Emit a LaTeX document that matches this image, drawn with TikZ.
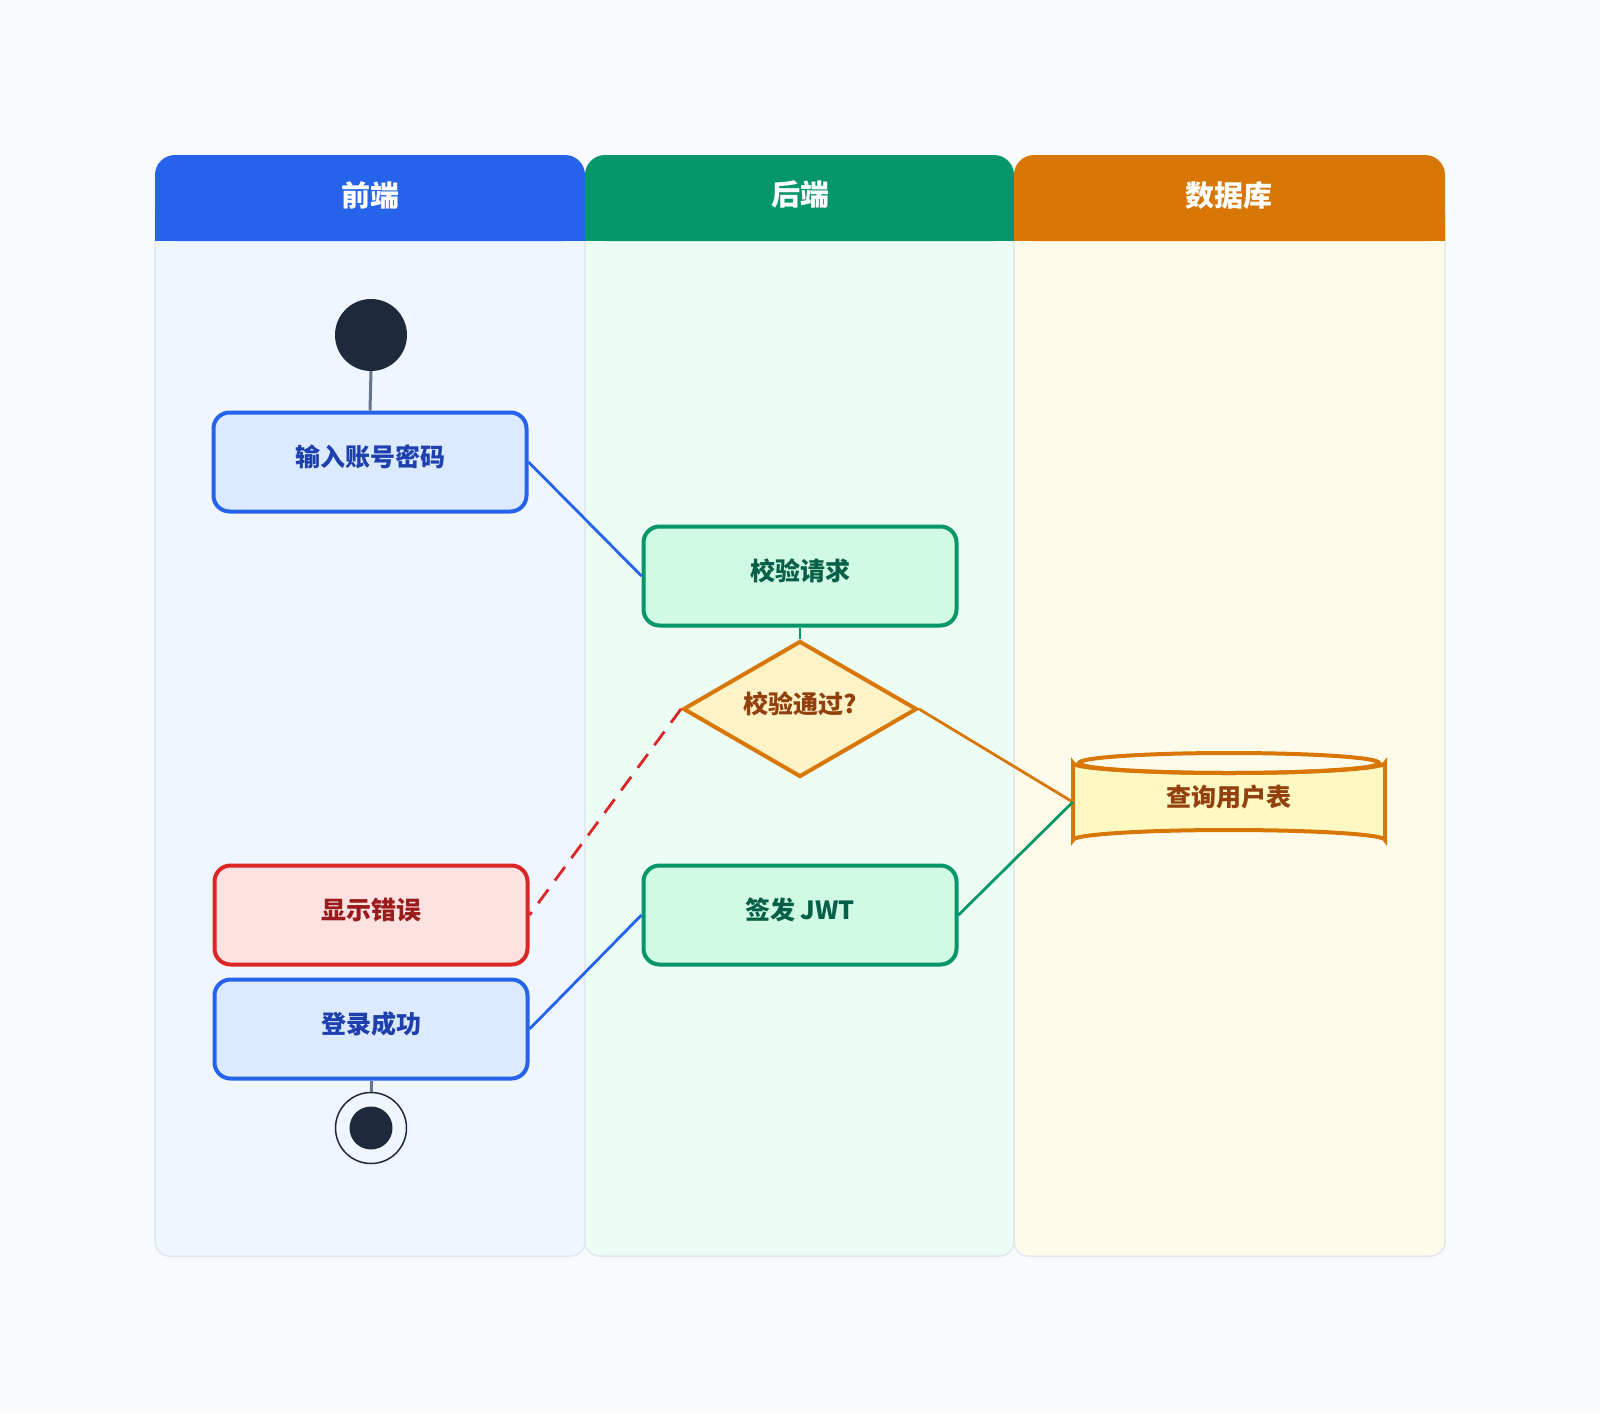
\documentclass[tikz,border=0pt]{standalone}
\usepackage{fontspec}
\setmainfont{Noto Sans CJK SC}
\usetikzlibrary{shapes.geometric}
\definecolor{bg}{HTML}{F8FAFC}
\definecolor{laneborder}{HTML}{E2E8F0}
\definecolor{hblue}{HTML}{2563EB}
\definecolor{hgreen}{HTML}{059669}
\definecolor{horange}{HTML}{D97706}
\definecolor{lblue}{HTML}{EFF6FF}
\definecolor{lgreen}{HTML}{ECFDF5}
\definecolor{lorange}{HTML}{FFFBEB}
\definecolor{fblue}{HTML}{DBEAFE}
\definecolor{tblue}{HTML}{1E40AF}
\definecolor{fgreen}{HTML}{D1FAE5}
\definecolor{tgreen}{HTML}{065F46}
\definecolor{fred}{HTML}{FEE2E2}
\definecolor{sred}{HTML}{DC2626}
\definecolor{tred}{HTML}{991B1B}
\definecolor{fyel}{HTML}{FEF3C7}
\definecolor{fdb}{HTML}{FEF9C3}
\definecolor{tbrown}{HTML}{92400E}
\definecolor{dark}{HTML}{1E293B}
\definecolor{gray}{HTML}{64748B}
\begin{document}
\begin{tikzpicture}[x=1pt,y=-1pt,
  hdrtext/.style={text=white,font=\fontsize{29}{33}\selectfont\bfseries},
  actbox/.style={rounded corners=16,line width=4pt,minimum width=313,minimum height=99,inner sep=0pt,text height=20pt,text depth=11pt,font=\fontsize{25}{29}\selectfont\bfseries},
  bluebox/.style={actbox,draw=hblue,fill=fblue,text=tblue},
  greenbox/.style={actbox,draw=hgreen,fill=fgreen,text=tgreen},
  redbox/.style={actbox,draw=sred,fill=fred,text=tred},
  decision/.style={diamond,draw=horange,fill=fyel,text=tbrown,line width=4pt,minimum width=234,minimum height=136,inner sep=0pt,shape aspect=1.7,text height=20pt,text depth=11pt,font=\fontsize{25}{29}\selectfont\bfseries},
  conn/.style={line width=2.8pt},
  flowline/.style={line width=3pt,draw=gray}
]
\fill[bg] (0,0) rectangle (1600,1413);
\useasboundingbox (0,0) rectangle (1600,1413);
% lane bodies
\path[fill=lblue,draw=laneborder,line width=1.5pt,rounded corners=14] (155,200) rectangle (585,1256);
\path[fill=lgreen,draw=laneborder,line width=1.5pt,rounded corners=14] (585,200) rectangle (1014,1256);
\path[fill=lorange,draw=laneborder,line width=1.5pt,rounded corners=14] (1014,200) rectangle (1445,1256);
% headers
\fill[hblue,rounded corners=20] (155,155) rectangle (585,241);
\fill[hblue] (155,210) rectangle (585,241);
\fill[hgreen,rounded corners=20] (585,155) rectangle (1014,241);
\fill[hgreen] (585,210) rectangle (1014,241);
\fill[horange,rounded corners=20] (1014,155) rectangle (1445,241);
\fill[horange] (1014,210) rectangle (1445,241);
\node[hdrtext] (h1) at (370,195) {前端};
\node[hdrtext] (h2) at (800,195) {后端};
\node[hdrtext] (h3) at (1229,195) {数据库};
% nodes
\node[circle,fill=dark,minimum size=72,inner sep=0pt] (start) at (371,335) {};
\node[bluebox] (input) at (370,462) {输入账号密码};
\node[greenbox] (verify) at (800,576) {校验请求};
\node[decision] (ok) at (800,709) {校验通过?};
% cylinder
\path[fill=fdb,draw=horange,line width=4pt] (1073,763) -- (1073,840) arc[start angle=180,end angle=0,x radius=156,y radius=-10] -- (1385,763) arc[start angle=0,end angle=-180,x radius=156,y radius=-10] -- cycle;
\draw[horange,line width=4pt] (1229,763) ellipse[x radius=150,y radius=10];
\node[minimum width=312,minimum height=97,inner sep=0pt,text=tbrown,text height=20pt,text depth=11pt,font=\fontsize{25}{29}\selectfont\bfseries] (db) at (1229,802) {查询用户表};
\node[redbox] (err) at (371,915) {显示错误};
\node[greenbox] (jwt) at (800,915) {签发 JWT};
\node[bluebox] (done) at (371,1029) {登录成功};
\node[circle,draw=dark,fill=lblue,line width=1.5pt,minimum size=71,inner sep=0pt] (endo) at (371,1128) {};
\node[circle,fill=dark,minimum size=43,inner sep=0pt] (endi) at (endo) {};
% connectors
\draw[flowline] (start.south) -- (input.north);
\draw[conn,hblue] (input.east) -- (verify.west);
\draw[conn,hgreen] (verify.south) -- (ok.north);
\draw[conn,sred,dash pattern=on 17pt off 11pt] (ok.west) -- (err.east);
\draw[conn,horange] (ok.east) -- (db.west);
\draw[conn,hgreen] (db.west) -- (jwt.east);
\draw[conn,hblue] (jwt.west) -- (done.east);
\draw[flowline] (done.south) -- (endo.north);
\end{tikzpicture}
\end{document}
